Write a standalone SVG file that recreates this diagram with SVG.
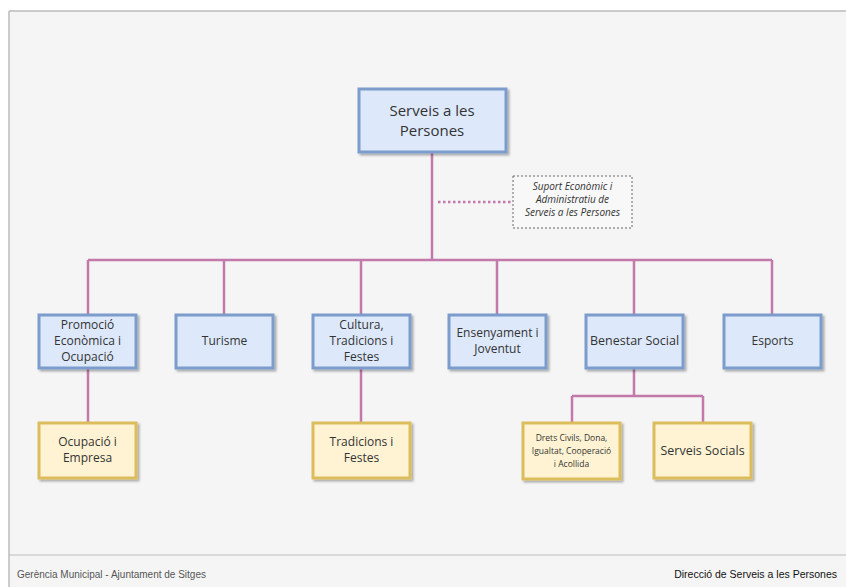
<svg xmlns="http://www.w3.org/2000/svg" width="846" height="587" viewBox="0 0 846 587">
<defs>
<filter id="sh" x="-10%" y="-10%" width="130%" height="140%">
<feDropShadow dx="2" dy="2" stdDeviation="1.2" flood-color="#000" flood-opacity="0.3"/>
</filter>
</defs>
<style>
.b{fill:#dde9fb;stroke:#7b9ccb;stroke-width:3;filter:url(#sh)}
.y{fill:#fff3d3;stroke:#dcbd5c;stroke-width:3;filter:url(#sh)}
.t{font-family:"Open Sans","Noto Sans",sans-serif;font-size:12px;fill:#333;text-anchor:middle}
.c{stroke:#c37aab;stroke-width:2.5;fill:none}
.f{font-family:"Liberation Sans",Arial,sans-serif;font-size:10px}
</style>
<rect x="0" y="0" width="846" height="587" fill="#fff"/>
<rect x="9" y="11" width="837" height="576" fill="#f5f5f5"/>
<line x1="9" y1="11" x2="846" y2="11" stroke="#bbb" stroke-width="1.5"/>
<line x1="9" y1="11" x2="9" y2="587" stroke="#bbb" stroke-width="1.5"/>
<line x1="9" y1="555" x2="846" y2="555" stroke="#bbb" stroke-width="1"/>
<g id="connectors">
<path class="c" d="M432 152V260M88 260H772M88 260V315M224 260V315M361 260V315M497 260V315M634 260V315M772 260V315"/>
<path class="c" d="M88 368V422M361 368V422M634 368V396M572 396H703M572 396V422M703 396V422"/>
<line x1="438" y1="202" x2="512" y2="202" stroke="#c37aab" stroke-width="2.5" stroke-dasharray="2.5 2.5"/>
</g>
<g id="n-top"><rect class="b" x="359" y="89" width="147" height="63"/>
<text class="t" style="font-size:15px" x="432" y="116">Serveis a les</text><text class="t" style="font-size:15px" x="432" y="136">Persones</text></g>
<g id="n-suport"><rect x="513" y="176" width="119" height="52" fill="#f8f8f8" stroke="#666" stroke-width="1" stroke-dasharray="2 2"/>
<text class="t" style="font-size:10px;font-style:italic" x="572.5" y="190">Suport Econòmic i</text>
<text class="t" style="font-size:10px;font-style:italic" x="572.5" y="203">Administratiu de</text>
<text class="t" style="font-size:10px;font-style:italic" x="572.5" y="216">Serveis a les Persones</text></g>
<g id="n-promocio"><rect class="b" x="39" y="315" width="97" height="53"/>
<text class="t" x="87.5" y="329">Promoció</text><text class="t" x="87.5" y="345">Econòmica i</text><text class="t" x="87.5" y="361">Ocupació</text></g>
<g id="n-turisme"><rect class="b" x="176" y="315" width="97" height="53"/>
<text class="t" x="224.5" y="345">Turisme</text></g>
<g id="n-cultura"><rect class="b" x="313" y="315" width="97" height="53"/>
<text class="t" x="361.5" y="329">Cultura,</text><text class="t" x="361.5" y="345">Tradicions i</text><text class="t" x="361.5" y="361">Festes</text></g>
<g id="n-ensenyament"><rect class="b" x="449" y="315" width="97" height="53"/>
<text class="t" x="497.5" y="337">Ensenyament i</text><text class="t" x="497.5" y="353">Joventut</text></g>
<g id="n-benestar"><rect class="b" x="586" y="315" width="97" height="53"/>
<text class="t" style="font-size:12.5px" x="634.5" y="345">Benestar Social</text></g>
<g id="n-esports"><rect class="b" x="724" y="315" width="97" height="53"/>
<text class="t" x="772.5" y="345">Esports</text></g>
<g id="n-ocupacio"><rect class="y" x="39" y="423" width="97" height="55"/>
<text class="t" x="87.5" y="446">Ocupació i</text><text class="t" x="87.5" y="462">Empresa</text></g>
<g id="n-tradicions"><rect class="y" x="313" y="423" width="97" height="55"/>
<text class="t" x="361.5" y="446">Tradicions i</text><text class="t" x="361.5" y="462">Festes</text></g>
<g id="n-drets"><rect class="y" x="523" y="423" width="97" height="56"/>
<text class="t" style="font-size:8.5px" x="571.5" y="441">Drets Civils, Dona,</text>
<text class="t" style="font-size:8.5px" x="571.5" y="454">Igualtat, Cooperació</text>
<text class="t" style="font-size:8.5px" x="571.5" y="467">i Acollida</text></g>
<g id="n-serveis"><rect class="y" x="654" y="423" width="97" height="55"/>
<text class="t" style="font-size:12.5px" x="702.5" y="455">Serveis Socials</text></g>
<text class="f" fill="#555" x="17" y="578">Gerència Municipal - Ajuntament de Sitges</text>
<text class="f" fill="#111" style="font-size:10.5px" x="837" y="578" text-anchor="end">Direcció de Serveis a les Persones</text>
</svg>
